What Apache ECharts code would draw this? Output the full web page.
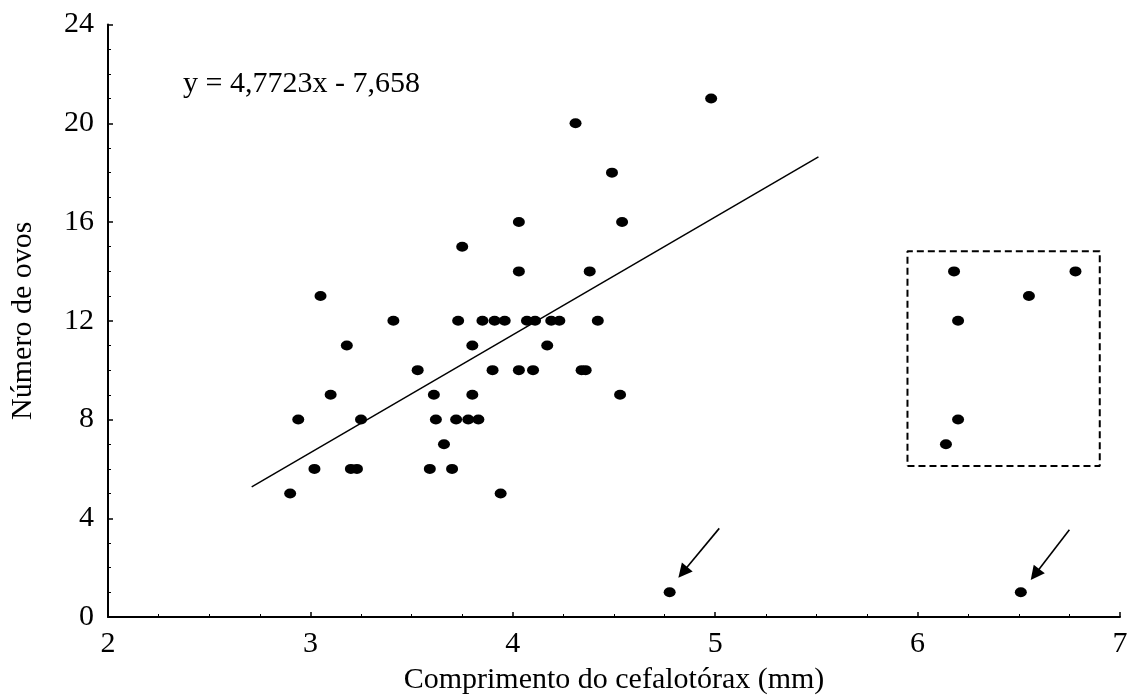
<!DOCTYPE html>
<html>
<head>
<meta charset="utf-8">
<script src="https://cdn.jsdelivr.net/npm/echarts@6/dist/echarts.min.js"></script>
<style>html,body{margin:0;padding:0;background:#fff}#c{width:1131px;height:700px}</style>
</head>
<body>
<div id="c"></div>
<script>
// Data
const mainPoints = [
  [2.90,5],[2.94,8],[3.02,6],[3.05,13],[3.10,9],[3.18,11],[3.20,6],[3.23,6],[3.25,8],
  [3.41,12],[3.53,10],[3.59,6],[3.61,9],[3.62,8],[3.66,7],[3.70,6],[3.72,8],[3.73,12],
  [3.75,15],[3.78,8],[3.80,11],[3.80,9],[3.83,8],[3.85,12],[3.90,10],[3.91,12],[3.94,5],
  [3.96,12],[4.03,16],[4.03,14],[4.03,10],[4.07,12],[4.10,10],[4.11,12],[4.17,11],
  [4.19,12],[4.23,12],[4.31,20],[4.34,10],[4.36,10],[4.38,14],[4.42,12],[4.49,18],
  [4.53,9],[4.54,16],[4.98,21]
];
const boxPoints = [[6.14,7],[6.18,14],[6.20,12],[6.20,8],[6.55,13],[6.78,14]];
const outlierPoints = [[4.775,1],[6.51,1]];
const regressionLine = [[2.71,5.27],[5.51,18.64]];
const dashedBox = [[5.95,6.12],[6.90,6.12],[6.90,14.82],[5.95,14.82],[5.95,6.12]];
const arrows = [
  [[5.02,3.59],[4.84,1.81]],
  [[6.75,3.53],[6.58,1.72]]
];
const equationText = 'y = 4,7723x - 7,658';
const xTitle = 'Comprimento do cefalotórax (mm)';
const yTitle = 'Número de ovos';

const FONT = 'Liberation Serif';
const chart = echarts.init(document.getElementById('c'), null, {renderer: 'canvas'});
const axisCommon = {
  type: 'value',
  nameLocation: 'middle',
  nameTextStyle: {fontFamily: FONT, fontSize: 30, color: '#000'},
  axisLine: {show: true, lineStyle: {color: '#000', width: 2}},
  axisTick: {show: true, inside: true, length: 5, lineStyle: {color: '#000', width: 1.5}},
  minorTick: {show: true, splitNumber: 4, length: 3, lineStyle: {color: '#000', width: 1}},
  splitLine: {show: false},
  minorSplitLine: {show: false},
  axisLabel: {fontFamily: FONT, fontSize: 30, color: '#000'}
};
chart.setOption({
  animation: false,
  backgroundColor: '#fff',
  title: {
    text: equationText, left: 183, top: 69, padding: 0,
    textStyle: {fontFamily: FONT, fontSize: 30, fontWeight: 'normal', color: '#000'}
  },
  grid: {left: 106, right: 11, top: 24.5, bottom: 79, containLabel: false},
  xAxis: Object.assign({}, axisCommon, {
    min: 2, max: 7, interval: 1, name: xTitle, nameGap: 48,
    axisLabel: Object.assign({}, axisCommon.axisLabel, {margin: 12})
  }),
  yAxis: Object.assign({}, axisCommon, {
    min: 0, max: 24, interval: 4, name: yTitle, nameGap: 70,
    axisLabel: Object.assign({}, axisCommon.axisLabel, {margin: 14})
  }),
  series: [
    {
      type: 'line', data: regressionLine, showSymbol: false, symbol: 'none',
      lineStyle: {color: '#000', width: 1.5}, z: 2, silent: true
    },
    {
      type: 'line', data: dashedBox, showSymbol: false, symbol: 'none',
      lineStyle: {color: '#000', width: 2, type: [7, 4]}, z: 2, silent: true
    },
    {
      type: 'lines', coordinateSystem: 'cartesian2d',
      data: arrows.map(a => ({coords: a})),
      symbol: ['none', 'triangle'], symbolSize: 14,
      lineStyle: {color: '#000', width: 1.6, opacity: 1, curveness: 0}, z: 3, silent: true
    },
    {
      type: 'scatter', data: mainPoints.concat(boxPoints, outlierPoints),
      symbol: 'circle', symbolSize: [12, 10],
      itemStyle: {color: '#000', opacity: 1}, z: 5
    }
  ]
});
</script>
</body>
</html>
